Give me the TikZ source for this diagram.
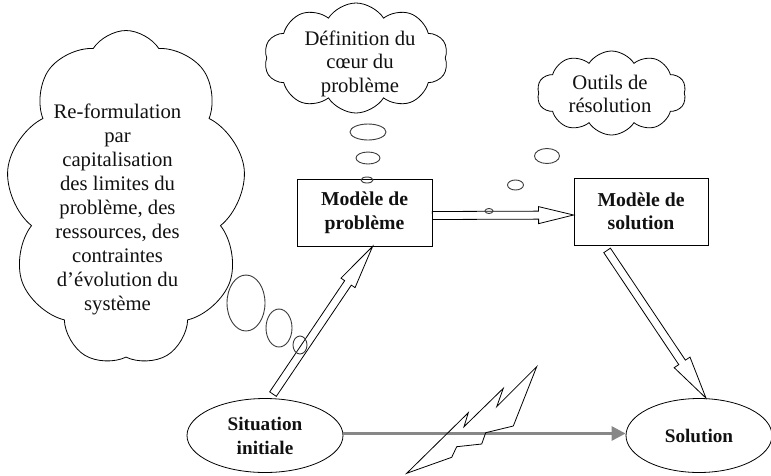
\documentclass[tikz,border=0pt]{standalone}
\usepackage{fontspec}
\setmainfont{Liberation Serif}
\usetikzlibrary{shapes.symbols,shapes.geometric,calc,arrows.meta}
\definecolor{txt}{HTML}{111111}
\definecolor{arrgrey}{HTML}{878787}
\definecolor{bub}{HTML}{3A3A3A}
\newcommand\hollowarrow[4]{%
  \coordinate (hbase) at ($(#2)!#3!(#1)$);
  \draw[hollow] ($(#1)!4pt!-90:(#2)$) -- ($(hbase)!4pt!-90:(#2)$) -- ($(hbase)!#4!-90:(#2)$) -- (#2)
     -- ($(hbase)!#4!90:(#2)$) -- ($(hbase)!4pt!90:(#2)$) -- ($(#1)!4pt!90:(#2)$) -- cycle;
}
\begin{document}
\begin{tikzpicture}[x=1pt,y=-1pt,
  every node/.style={text=txt},
  cloudshape/.style={cloud, draw=black, line width=0.8pt, cloud puff arc=115, inner sep=0pt},
  cloudtxt/.style={align=center, inner sep=0pt, font=\fontsize{20.7}{24}\selectfont},
  boxstyle/.style={rectangle, draw=black, line width=0.8pt, minimum width=134pt, minimum height=67pt,
     align=center, inner sep=0pt, font=\bfseries\fontsize{19.7}{23.5}\selectfont},
  ellstyle/.style={ellipse, draw=black, line width=0.8pt, minimum height=74pt,
     align=center, inner sep=0pt, font=\bfseries\fontsize{19.2}{24}\selectfont},
  bubble/.style={draw=bub, line width=0.9pt},
  hollow/.style={draw=black, line width=0.8pt, line join=miter, fill=white},
  greyarrow/.style={draw=arrgrey, line width=3pt, -{Triangle[length=14pt,width=14pt]}},
  boltstyle/.style={draw=black, line width=0.8pt, line join=miter}
]
\useasboundingbox (0,0) rectangle (771,475);

% clouds
\node[cloudshape, cloud puffs=9, minimum width=240pt, minimum height=335pt] (bigcloud) at (126,198) {};
\node[cloudtxt] (bigtxt) at (117.5,209.5) {Re-formulation\\par\\capitalisation\\des limites du\\problème, des\\ressources, des\\contraintes\\d’évolution du\\système};

\node[cloudshape, cloud puffs=10, minimum width=184pt, minimum height=110pt] (defcloud) at (356,58) {};
\node[cloudtxt, font=\fontsize{20.7}{23.5}\selectfont] (deftxt) at (360,63.5) {Définition du\\cœur du\\problème};

\node[cloudshape, cloud puffs=10, minimum width=149pt, minimum height=84pt] (outcloud) at (611.5,93) {};
\node[cloudtxt, font=\fontsize{20.7}{23}\selectfont] (outtxt) at (610,93.5) {Outils de\\résolution};

% thought bubbles
\draw[bubble] (246,303) ellipse [x radius=19, y radius=28];
\draw[bubble] (279,328) ellipse [x radius=13, y radius=19];
\draw[bubble] (368,132) ellipse [x radius=18, y radius=8];
\draw[bubble] (368,158) ellipse [x radius=12, y radius=6];
\draw[bubble] (547,156) ellipse [x radius=12.5, y radius=7.5];
\draw[bubble] (515.5,185) ellipse [x radius=8, y radius=5];

% boxes
\node[boxstyle, minimum width=135pt] (pb) at (364.5,212.5) {Modèle de\\problème};
\node[boxstyle] (sb) at (641,211.5) {Modèle de\\solution};

% ellipses
\node[ellstyle, minimum width=156pt] (sit) at (265,435.5) {Situation\\initiale};
\node[ellstyle, minimum width=146pt] (sol) at (699,435.5) {Solution};

% grey arrow
\draw[greyarrow] ($(sit.east)+(0,-2)$) -- ($(sol.west)+(0,-2)$);

% hollow arrows
\coordinate (a1t) at ($(sit.north)+(8,-4)$);
\coordinate (a1h) at ($(pb.south west)+(76,0)$);
\hollowarrow{a1t}{a1h}{44pt}{8.5pt}
\coordinate (a2t) at ($(pb.east)+(0,3)$);
\coordinate (a2h) at ($(sb.west)+(0,3.5)$);
\hollowarrow{a2t}{a2h}{35pt}{8.5pt}
\coordinate (a3t) at ($(sb.south west)+(33.5,5)$);
\coordinate (a3h) at ($(sol.north)+(7,0)$);
\hollowarrow{a3t}{a3h}{43pt}{9.5pt}

% bubbles drawn over boxes and arrows
\draw[bubble] (300,345) ellipse [x radius=7, y radius=9];
\draw[bubble] (367,180) ellipse [x radius=6, y radius=3];
\draw[bubble] (489,211) ellipse [x radius=4, y radius=2.5];

% lightning bolt
\draw[boltstyle] (406.7,473.3) -- (468.3,412.7) -- (464,426.7) -- (503.3,388.3) -- (496.7,406.7)
  -- (536.7,366.7) -- (513.3,426) -- (485.7,432.7) -- (481.7,444) -- (456.7,446.7) -- (451.7,457.3) -- cycle;
\end{tikzpicture}
\end{document}
